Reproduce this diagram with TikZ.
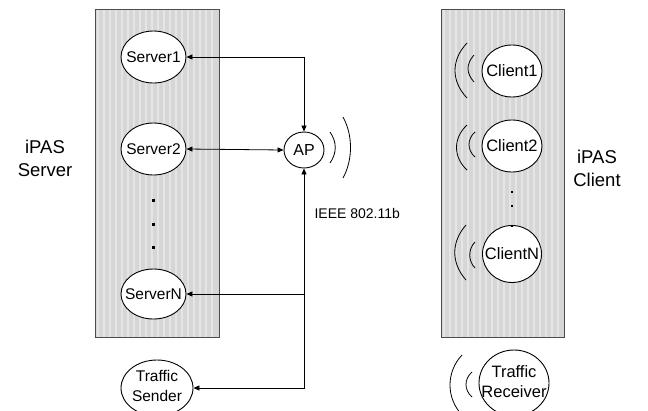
\documentclass[tikz,border=0pt]{standalone}
\usepackage{fontspec}
\setmainfont{Liberation Sans}
\usetikzlibrary{shapes.geometric,arrows.meta}
\begin{document}
\begin{tikzpicture}[x=1pt,y=-1pt,
  unit/.style={ellipse,draw,fill=white,line width=0.9pt,inner sep=0pt},
  srvfont/.style={font=\fontsize{15.5}{20}\selectfont,align=center,inner sep=0pt},
  clifont/.style={font=\fontsize{16.5}{20}\selectfont,align=center,inner sep=0pt},
  panel/.style={draw=black!70,line width=0.9pt},
  both/.style={line width=0.8pt,{Triangle[length=6pt,width=5pt]}-{Triangle[length=6pt,width=5pt]}},
  single/.style={line width=0.8pt,-{Triangle[length=6pt,width=5pt]}},
  wave/.style={line width=0.8pt},
  biglabel/.style={font=\fontsize{18.5}{23}\selectfont,align=center}]
\useasboundingbox (0,0) rectangle (648,410);
\clip (0,0) rectangle (648,410);
\fill[white] (0,0) rectangle (648,410);
% panels with stripes
\fill[black!16] (95,9) rectangle (219,337);
\foreach \x in {95,101,...,213} \fill[black!10] (\x+1.5,9) rectangle (\x+4,337);
\draw[panel] (95,9) rectangle (219,337);
\fill[black!16] (441,9) rectangle (564,337);
\foreach \x in {441,447,...,558} \fill[black!10] (\x+1.5,9) rectangle (\x+4,337);
\draw[panel] (441,9) rectangle (564,337);
% server side
\node[unit,minimum width=65pt,minimum height=52pt,label={[srvfont]center:Server1}] (s1) at (153.5,57) {};
\node[unit,minimum width=65pt,minimum height=52pt,label={[srvfont]center:Server2}] (s2) at (153.5,149) {};
\node[unit,minimum width=65pt,minimum height=50pt,label={[srvfont]center:ServerN}] (sN) at (153.5,294) {};
\node[unit,minimum width=72pt,minimum height=56pt,label={[srvfont,yshift=2pt]center:Traffic\\Sender}] (ts) at (157,388) {};
\foreach \y in {200,224,247} \fill (152,\y-1.5) rectangle (155,\y+1.5);
% AP
\node[unit,minimum width=40pt,minimum height=36pt,label={[font=\fontsize{16}{19}\selectfont,inner sep=0pt]center:AP}] (ap) at (304,150) {};
\draw[both] (s1.east) -| (ap.north);
\draw[both] (s2.east) -- (ap.west);
\draw[both] (ap.south) |- (ts.east);
\draw[single] (ap.south |- sN.east) -- (sN.east);
\draw[wave] (330,132) .. controls (337,142) and (337,153) .. (330,163);
\draw[wave] (343,117) .. controls (353,135) and (353,160) .. (343,178);
\node[anchor=west,font=\fontsize{14}{17}\selectfont] (ieee) at (311,213) {IEEE 802.11b};
% client side
\node[unit,minimum width=60pt,minimum height=52pt,label={[clifont]center:Client1}] (c1) at (512,71) {};
\node[unit,minimum width=60pt,minimum height=52pt,label={[clifont]center:Client2}] (c2) at (512,146) {};
\node[unit,minimum width=59pt,minimum height=57pt,label={[clifont]center:ClientN}] (cN) at (512,254) {};
\node[unit,minimum width=70pt,minimum height=66pt,label={[clifont,yshift=1pt]center:Traffic\\Receiver}] (tr) at (514,383) {};
\foreach \y in {192,206,226} \fill (511,\y-1) rectangle (513,\y+1);
% client waves
\draw[wave] (467,43) .. controls (451,60) and (451,81) .. (467,98);
\draw[wave] (474,55) .. controls (466,64) and (466,73) .. (474,82);
\draw[wave] (467,125) .. controls (453,138) and (453,157) .. (467,170);
\draw[wave] (475,132) .. controls (467,139) and (467,150) .. (475,157);
\draw[wave] (466,225) .. controls (451,242) and (451,263) .. (466,280);
\draw[wave] (475,242) .. controls (468,249) and (468,261) .. (475,268);
\draw[wave] (462,355) .. controls (446,372) and (446,398) .. (462,415);
\draw[wave] (472,372) .. controls (464,379) and (464,390) .. (472,397);
% labels
\node[biglabel] (lsrv) at (45,158) {iPAS\\Server};
\node[biglabel] (lcli) at (597,168) {iPAS\\Client};
\end{tikzpicture}
\end{document}
